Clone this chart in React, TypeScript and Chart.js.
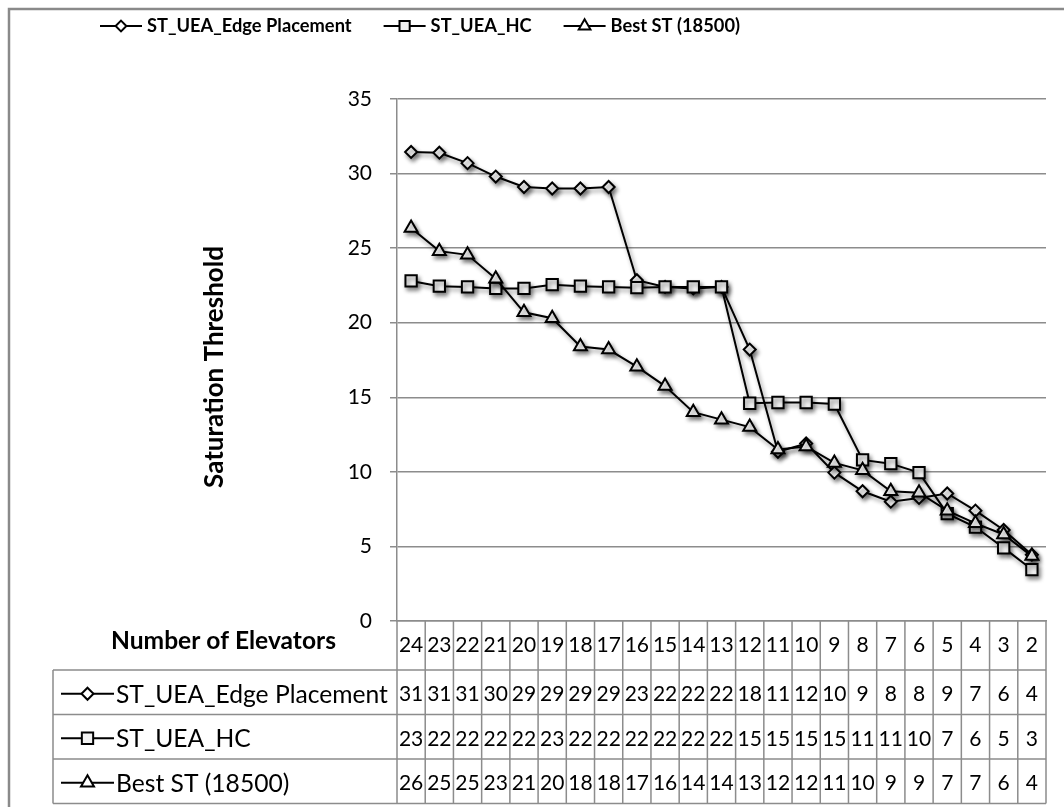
import React, { useEffect, useRef } from 'react';
import { Chart, registerables } from 'chart.js';

Chart.register(...registerables);

// ---------- data ----------
const categories = ['24', '23', '22', '21', '20', '19', '18', '17', '16', '15', '14', '13', '12', '11', '10', '9', '8', '7', '6', '5', '4', '3', '2'];
const edgePlacement = [31.45, 31.4, 30.7, 29.8, 29.1, 29.0, 29.0, 29.1, 22.85, 22.4, 22.3, 22.4, 18.2, 11.35, 11.9, 9.95, 8.7, 8.0, 8.25, 8.55, 7.4, 6.1, 4.45];
const hillClimbing = [22.8, 22.45, 22.4, 22.3, 22.3, 22.55, 22.45, 22.4, 22.35, 22.4, 22.4, 22.4, 14.6, 14.65, 14.65, 14.55, 10.8, 10.55, 9.95, 7.2, 6.3, 4.9, 3.45];
const bestST = [26.35, 24.8, 24.55, 22.95, 20.7, 20.3, 18.4, 18.2, 17.05, 15.75, 14.0, 13.5, 13.0, 11.5, 11.7, 10.6, 10.1, 8.7, 8.6, 7.4, 6.55, 5.8, 4.35];
const seriesNames = ['ST_UEA_Edge Placement', 'ST_UEA_HC', 'Best ST (18500)'];
const seriesMarkers = ['rectRot', 'rect', 'triangle'];
const seriesRadius = [6, 8, 7.5];
const yTickValues = [0, 5, 10, 15, 20, 25, 30, 35];
const yAxisTitle = 'Saturation Threshold';
const xAxisTitle = 'Number of Elevators';

// ---------- style ----------
const FONT = 'Lato, "Open Sans", sans-serif';
const GRID = '#8c8c8c';
const NUM_SIZE = 21;

function fitSize(ctx: CanvasRenderingContext2D, text: string, weight: string, target: number) {
  const base = 20;
  ctx.font = `${weight} ${base}px ${FONT}`;
  const w = ctx.measureText(text).width;
  return (base * target) / w;
}

function drawMarker(ctx: CanvasRenderingContext2D, style: string, x: number, y: number, r: number) {
  ctx.beginPath();
  if (style === 'rectRot') {
    ctx.moveTo(x, y - r);
    ctx.lineTo(x + r, y);
    ctx.lineTo(x, y + r);
    ctx.lineTo(x - r, y);
    ctx.closePath();
  } else if (style === 'rect') {
    const s = r * Math.SQRT1_2;
    ctx.rect(x - s, y - s, 2 * s, 2 * s);
  } else {
    ctx.moveTo(x, y - r);
    ctx.lineTo(x + r * 0.866, y + r * 0.5);
    ctx.lineTo(x - r * 0.866, y + r * 0.5);
    ctx.closePath();
  }
  ctx.fillStyle = style === 'rect' ? '#f2f2f2' : '#ffffff';
  ctx.fill();
  ctx.lineWidth = 2;
  ctx.strokeStyle = '#000';
  ctx.stroke();
}

function drawSymbol(ctx: CanvasRenderingContext2D, idx: number, x0: number, w: number, y: number, scale = 1) {
  ctx.save();
  ctx.strokeStyle = '#000';
  ctx.lineWidth = 2;
  ctx.beginPath();
  ctx.moveTo(x0, y);
  ctx.lineTo(x0 + w, y);
  ctx.stroke();
  drawMarker(ctx, seriesMarkers[idx], x0 + w / 2, y, seriesRadius[idx] * scale);
  ctx.restore();
}

const decorPlugin = {
  id: 'excelDecor',
  beforeDraw(chart: any) {
    const ctx = chart.ctx as CanvasRenderingContext2D;
    ctx.save();
    ctx.fillStyle = '#fff';
    ctx.fillRect(0, 0, chart.width, chart.height);
    ctx.strokeStyle = '#8a8a8a';
    ctx.lineWidth = 2.5;
    ctx.strokeRect(9, 9, 1200, 1000);
    ctx.restore();
  },
  beforeDatasetsDraw(chart: any) {
    const ctx = chart.ctx as CanvasRenderingContext2D;
    ctx.save();
    ctx.shadowColor = 'rgba(0,0,0,0.45)';
    ctx.shadowBlur = 4;
    ctx.shadowOffsetX = 2;
    ctx.shadowOffsetY = 3;
  },
  afterDatasetsDraw(chart: any) {
    chart.ctx.restore();
  },
  afterDraw(chart: any) {
    const ctx = chart.ctx as CanvasRenderingContext2D;
    const xs = chart.scales.x;
    const area = chart.chartArea;
    const n = categories.length;
    const step = xs.getPixelForValue(1) - xs.getPixelForValue(0);
    const colLeft = (i: number) => xs.getPixelForValue(0) - step / 2 + i * step;
    const tableLeft = 53;
    const headerBottom = 670;
    const rowH = 44.5;
    const tableBottom = headerBottom + rowH * 3;
    const tableRight = colLeft(n);

    ctx.save();
    // table grid
    ctx.strokeStyle = GRID;
    ctx.lineWidth = 1.5;
    ctx.beginPath();
    for (let r = 0; r <= 3; r++) {
      const y = headerBottom + r * rowH;
      ctx.moveTo(tableLeft, y);
      ctx.lineTo(tableRight, y);
    }
    ctx.moveTo(tableLeft, headerBottom);
    ctx.lineTo(tableLeft, tableBottom);
    for (let i = 0; i <= n; i++) {
      const x = colLeft(i);
      ctx.moveTo(x, area.bottom);
      ctx.lineTo(x, tableBottom);
    }
    ctx.stroke();

    // header row (categories)
    ctx.fillStyle = '#000';
    ctx.textAlign = 'center';
    ctx.textBaseline = 'alphabetic';
    ctx.font = `${NUM_SIZE}px ${FONT}`;
    categories.forEach((c, i) => {
      ctx.fillText(c, xs.getPixelForValue(i), 652);
    });

    // data rows
    const capH = 0.7165 * NUM_SIZE;
    const rowLabelSize = fitSize(ctx, seriesNames[0], 'normal', 272);
    chart.data.datasets.forEach((ds: any, r: number) => {
      const rowTop = headerBottom + r * rowH;
      const mid = rowTop + rowH / 2 + 1.5;
      ctx.font = `${NUM_SIZE}px ${FONT}`;
      ctx.textAlign = 'center';
      ds.data.forEach((v: number, i: number) => {
        ctx.fillText(String(Math.round(v)), xs.getPixelForValue(i), mid + capH / 2);
      });
      drawSymbol(ctx, r, 61, 53, mid);
      ctx.fillStyle = '#000';
      ctx.textAlign = 'left';
      ctx.font = `${rowLabelSize}px ${FONT}`;
      ctx.fillText(seriesNames[r], 116, mid + 0.7165 * rowLabelSize / 2);
    });

    // x title
    const xtSize = fitSize(ctx, xAxisTitle, 'bold', 225);
    ctx.font = `bold ${xtSize}px ${FONT}`;
    ctx.textAlign = 'center';
    ctx.fillText(xAxisTitle, 223.5, 649);

    // y title
    const ytSize = fitSize(ctx, yAxisTitle, 'bold', 242);
    ctx.save();
    ctx.translate(214, 367);
    ctx.rotate(-Math.PI / 2);
    ctx.font = `bold ${ytSize}px ${FONT}`;
    ctx.textAlign = 'center';
    ctx.fillText(yAxisTitle, 0, 0.7165 * ytSize / 2);
    ctx.restore();

    // legend (condensed bold text, Calibri-like proportions)
    const symW = 42;
    const txtGap = 5;
    const itemGap = 32;
    const legLeft = 100;
    const legRight = 740;
    const legSize = 18;
    ctx.font = `bold ${legSize}px ${FONT}`;
    const widths = seriesNames.map((s) => ctx.measureText(s).width);
    const fixed = seriesNames.length * (symW + txtGap) + (seriesNames.length - 1) * itemGap;
    const sx = (legRight - legLeft - fixed) / widths.reduce((a, b) => a + b, 0);
    const legMid = 26;
    let x = legLeft;
    seriesNames.forEach((s, i) => {
      drawSymbol(ctx, i, x, symW, legMid, 0.9);
      x += symW + txtGap;
      ctx.save();
      ctx.translate(x, legMid + 0.7165 * legSize / 2);
      ctx.scale(sx, 1);
      ctx.fillStyle = '#000';
      ctx.textAlign = 'left';
      ctx.font = `bold ${legSize}px ${FONT}`;
      ctx.fillText(s, 0, 0);
      ctx.restore();
      x += widths[i] * sx + itemGap;
    });
    ctx.restore();
  },
};

export default function App() {
  const ref = useRef<HTMLCanvasElement>(null);
  useEffect(() => {
    if (!ref.current) return;
    const seriesData = [edgePlacement, hillClimbing, bestST];
    const chart = new Chart(ref.current, {
      type: 'line',
      data: {
        labels: categories,
        datasets: seriesNames.map((name, i) => ({
          label: name,
          data: seriesData[i],
          order: 3 - i,
          borderColor: '#000',
          borderWidth: 2,
          tension: 0,
          fill: false,
          pointStyle: seriesMarkers[i] as any,
          pointRadius: seriesRadius[i],
          pointBorderWidth: 2,
          pointBorderColor: '#000',
          pointBackgroundColor: i === 1 ? '#f2f2f2' : '#ffffff',
        })),
      },
      options: {
        responsive: false,
        animation: false,
        devicePixelRatio: 1,
        layout: { padding: { left: 337, right: 18, top: 99, bottom: 186 } },
        plugins: {
          legend: { display: false },
          tooltip: { enabled: false },
          title: { display: false },
        },
        scales: {
          x: {
            type: 'category',
            offset: true,
            grid: { display: false, drawTicks: false },
            border: { display: true, color: GRID, width: 1.5 },
            ticks: { display: false },
            afterFit: (s: any) => {
              s.height = 0;
            },
          },
          y: {
            min: 0,
            max: 35,
            afterBuildTicks: (s: any) => {
              s.ticks = yTickValues.map((v) => ({ value: v }));
            },
            ticks: {
              color: '#000',
              font: { family: FONT, size: NUM_SIZE },
              padding: 18,
            },
            grid: { color: GRID, lineWidth: 1.5, tickLength: 7, drawTicks: true },
            border: { display: true, color: GRID, width: 1.5 },
            afterFit: (s: any) => {
              s.width = 60;
            },
          },
        },
      },
      plugins: [decorPlugin],
    } as any);
    return () => chart.destroy();
  }, []);
  return (
    <div style={{ position: 'absolute', left: 0, top: 0, width: 1064, height: 807, background: '#fff' }}>
      <canvas ref={ref} width={1064} height={807} style={{ display: 'block', width: 1064, height: 807 }} />
    </div>
  );
}
